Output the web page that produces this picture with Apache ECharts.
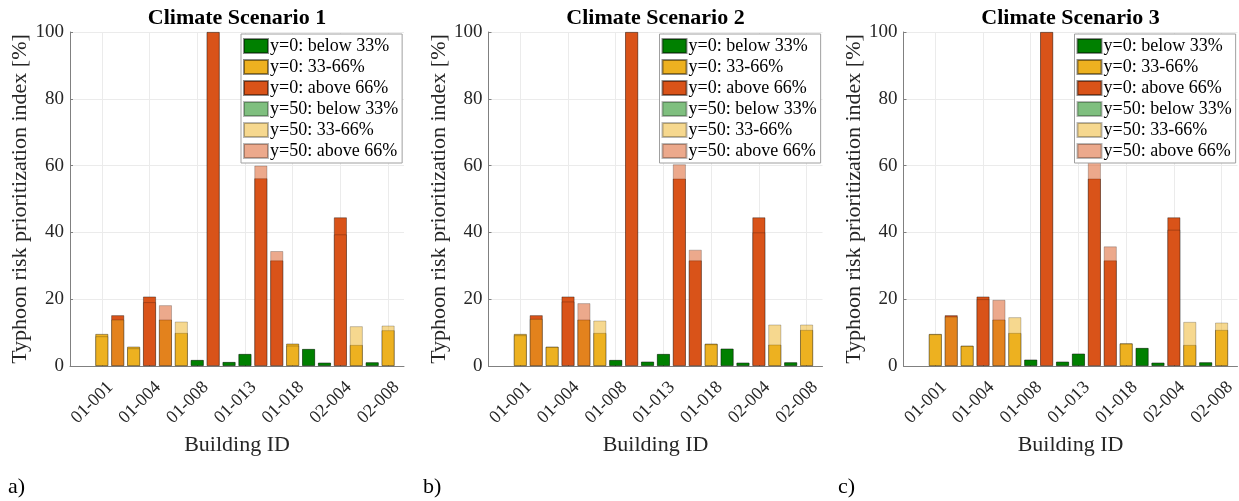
<!DOCTYPE html>
<html><head><meta charset="utf-8">
<script src="https://cdn.jsdelivr.net/npm/echarts@6/dist/echarts.min.js"></script>
<style>html,body{margin:0;padding:0;background:#fff}#c{width:1239px;height:501px}</style>
</head><body><div id="c"></div>
<script>
// Building IDs (only every third one is labelled in the figure)
const buildingIds = ['01-001','','','01-004','','','01-008','','','01-013','','','01-018','','','02-004','','','02-008'];
// risk class of each bar: low = below 33%, mid = 33-66%, high = above 66%
const y0Class  = ['mid','high','mid','high','mid','mid','low','high','low','low','high','high','mid','low','low','high','mid','low','mid'];
const y50Class = ['mid','mid','mid','high','high','mid','low','high','low','low','high','high','mid','low','low','high','mid','low','mid'];

const scenario1Y0  = [9.6, 15.2, 5.8, 20.8, 13.9, 9.9, 1.8, 100, 1.2, 3.6, 56.2, 31.6, 6.7, 5.1, 1.0, 44.5, 6.3, 1.1, 10.7];
const scenario1Y50 = [8.9, 13.9, 5.3, 19.1, 18.2, 13.3, 1.8, 100, 1.2, 3.6, 60.0, 34.4, 6.1, 5.1, 1.0, 39.4, 11.9, 1.1, 12.1];
const scenario2Y0  = [9.6, 15.2, 5.8, 20.8, 13.9, 9.9, 1.8, 100, 1.3, 3.6, 56.1, 31.6, 6.7, 5.2, 1.0, 44.5, 6.4, 1.1, 10.8];
const scenario2Y50 = [9.2, 14.1, 5.7, 19.3, 18.8, 13.6, 1.8, 100, 1.3, 3.6, 60.4, 34.8, 6.5, 5.2, 1.0, 40.0, 12.4, 1.1, 12.4];
const scenario3Y0  = [9.6, 15.2, 6.1, 20.8, 13.9, 9.9, 1.9, 100, 1.3, 3.7, 56.1, 31.6, 6.8, 5.4, 1.0, 44.5, 6.3, 1.1, 10.8];
const scenario3Y50 = [9.5, 14.8, 6.0, 20.0, 19.8, 14.6, 1.9, 100, 1.3, 3.7, 61.3, 35.8, 6.7, 5.4, 1.0, 40.8, 13.2, 1.1, 13.0];

const scenarioTitles = ['Climate Scenario 1', 'Climate Scenario 2', 'Climate Scenario 3'];
const panelLetters = ['a)', 'b)', 'c)'];
const classKeys = ['low', 'mid', 'high'];
const y0Names  = ['y=0: below 33%', 'y=0: 33-66%', 'y=0: above 66%'];
const y50Names = ['y=50: below 33%', 'y=50: 33-66%', 'y=50: above 66%'];
const yTicks = [0, 20, 40, 60, 80, 100];

const panels = [
  {y0: scenario1Y0, y50: scenario1Y50},
  {y0: scenario2Y0, y50: scenario2Y50},
  {y0: scenario3Y0, y50: scenario3Y50}
];

const FONT = '"Liberation Serif", "Times New Roman", serif';
const solid = {low: '#008000', mid: '#EDB120', high: '#D95319'};
const faded = {low: 'rgba(0,128,0,0.5)', mid: 'rgba(237,177,32,0.5)', high: 'rgba(217,83,25,0.5)'};

// axis runs from position -1 to 20; buildings sit at 1..19
const categories = ['', ''].concat(buildingIds, ['']);
const pad = arr => ['-', '-'].concat(arr, ['-']);

const gridLefts = [70, 488.5, 903.5];
const gridW = 334, gridTop = 32, gridH = 334;

const grids = [], xAxes = [], yAxes = [], series = [], titles = [], legends = [], graphics = [];
const letterX = [8, 423, 838];

panels.forEach((p, k) => {
  grids.push({left: gridLefts[k], top: gridTop, width: gridW, height: gridH, containLabel: false, outerBoundsMode: 'none'});
  xAxes.push({
    type: 'category', gridIndex: k, data: categories, boundaryGap: false,
    name: 'Building ID', nameLocation: 'middle', nameGap: 65,
    nameTextStyle: {fontFamily: FONT, fontSize: 22, color: '#262626'},
    axisLine: {show: true, lineStyle: {color: '#808080', width: 1}},
    axisTick: {show: true, inside: true, length: 3, interval: (i, v) => v !== '', lineStyle: {color: '#808080'}},
    splitLine: {show: true, interval: (i, v) => v !== '', lineStyle: {color: '#ebebeb', width: 1}},
    axisLabel: {interval: (i, v) => v !== '', rotate: 45, align: 'right', verticalAlign: 'top', margin: 3,
      padding: [8, 5, 0, 0], fontFamily: FONT, fontSize: 18, color: '#262626', showMinLabel: true, showMaxLabel: true}
  });
  yAxes.push({
    type: 'value', gridIndex: k, min: yTicks[0], max: yTicks[yTicks.length - 1], interval: 20,
    name: 'Typhoon risk prioritization index [%]', nameLocation: 'middle', nameGap: 37,
    nameTextStyle: {fontFamily: FONT, fontSize: 22, color: '#262626'},
    axisLine: {show: true, lineStyle: {color: '#808080', width: 1}},
    axisTick: {show: true, inside: true, length: 3, lineStyle: {color: '#808080'}},
    splitLine: {show: true, lineStyle: {color: '#ebebeb', width: 1}},
    axisLabel: {margin: 6, fontFamily: FONT, fontSize: 19, color: '#262626'}
  });
  classKeys.forEach((c, j) => {
    series.push({
      type: 'bar', name: y0Names[j], xAxisIndex: k, yAxisIndex: k, barWidth: 13, barGap: '-100%',
      itemStyle: {color: solid[c], borderColor: 'rgba(0,0,0,0.45)', borderWidth: 0.8},
      data: pad(p.y0.map((v, i) => y0Class[i] === c ? v : '-'))
    });
  });
  classKeys.forEach((c, j) => {
    series.push({
      type: 'bar', name: y50Names[j], xAxisIndex: k, yAxisIndex: k, barWidth: 13, barGap: '-100%',
      itemStyle: {color: faded[c], borderColor: 'rgba(0,0,0,0.28)', borderWidth: 0.8},
      data: pad(p.y50.map((v, i) => y50Class[i] === c ? v : '-'))
    });
  });
  titles.push({
    text: scenarioTitles[k], left: gridLefts[k] + gridW / 2, top: 7, textAlign: 'center', padding: 0,
    textStyle: {fontFamily: FONT, fontSize: 22, fontWeight: 'bold', color: '#000'}
  });
  legends.push({
    data: y0Names.concat(y50Names), orient: 'vertical', left: gridLefts[k] + 171, top: 34,
    icon: 'rect', itemWidth: 24, itemHeight: 14, itemGap: 3, padding: [3, 4, 3, 2],
    borderColor: '#a0a0a0', borderWidth: 1, backgroundColor: '#fff',
    selectedMode: false,
    textStyle: {fontFamily: FONT, fontSize: 18, color: '#000', padding: [0, 0, 0, -3]}
  });
  graphics.push({
    type: 'text', left: letterX[k], top: 476,
    style: {text: panelLetters[k], font: '22px ' + FONT, fill: '#000'}
  });
});

const chart = echarts.init(document.getElementById('c'), null, {renderer: 'canvas'});
chart.setOption({
  backgroundColor: '#fff',
  animation: false,
  title: titles,
  legend: legends,
  grid: grids,
  xAxis: xAxes,
  yAxis: yAxes,
  series: series,
  graphic: graphics
});
</script></body></html>
